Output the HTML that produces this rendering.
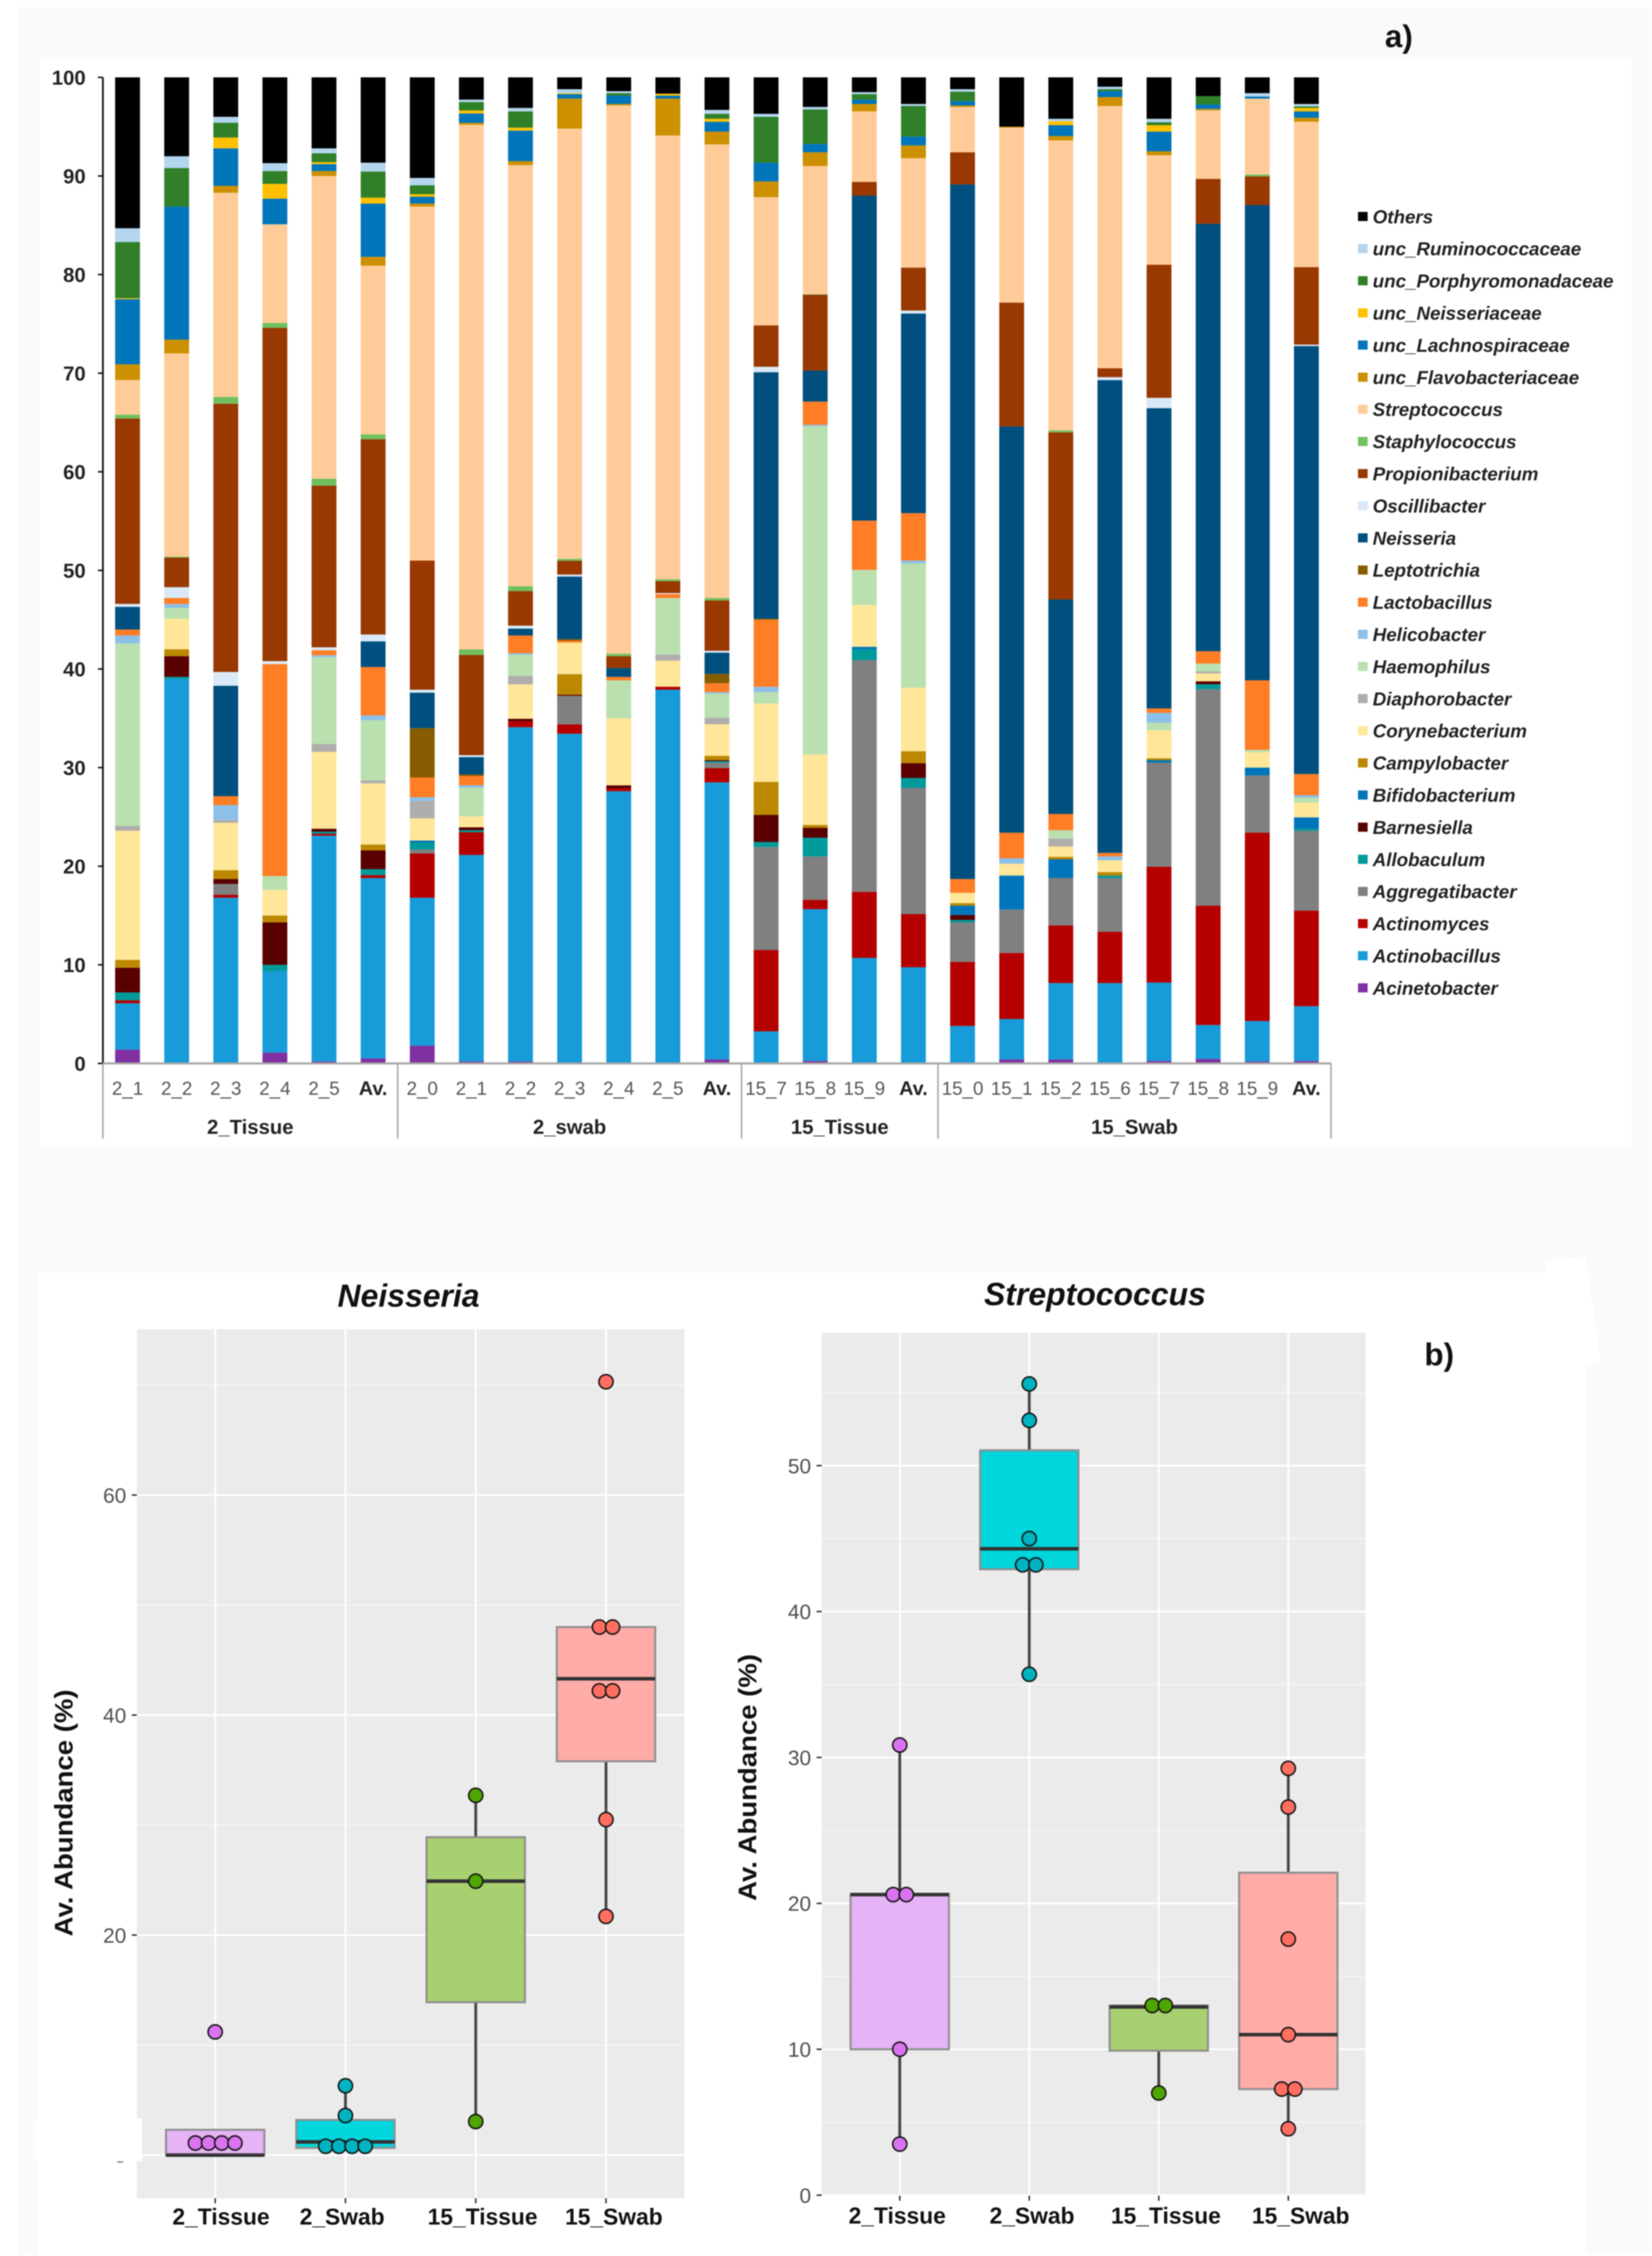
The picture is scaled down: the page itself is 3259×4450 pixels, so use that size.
<!DOCTYPE html>
<html lang="en">
<head>
<meta charset="utf-8">
<title>Microbiome composition: stacked bars and box plots</title>
<style>
html,body{margin:0;padding:0;background:#fff;}
svg{display:block;filter:blur(1px);}
text{font-family:"Liberation Sans",sans-serif;}
</style>
</head>
<body>
<svg id="figure" xmlns="http://www.w3.org/2000/svg" width="3259" height="4450" viewBox="0 0 3259 4450">
  <rect x="37" y="15" width="3222" height="4432" fill="#fafafa"/>
  <rect x="79" y="116" width="3139" height="2148" fill="#ffffff"/>
  <polygon points="75,2510 3048,2510 3048,2487 3128,2479 3159,2688 3127,2691 3127,4447 75,4447" fill="#ffffff"/>
  <text x="2732" y="93" font-size="62" font-weight="bold" fill="#111">a)</text>
  <text x="2810" y="2693" font-size="62" font-weight="bold" fill="#111">b)</text>
  <g id="stacked"></g>
  <g id="legend"></g>
  <g id="neisseria"></g>
  <g id="strep"></g>
</svg>
<script>
const sampleLabels = ['2_1','2_2','2_3','2_4','2_5','Av.','2_0','2_1','2_2','2_3','2_4','2_5','Av.','15_7','15_8','15_9','Av.','15_0','15_1','15_2','15_6','15_7','15_8','15_9','Av.'];
const groupLabels = ['2_Tissue','2_swab','15_Tissue','15_Swab'];
const groupSizes = [6,7,4,8];
const yTickLabels = [0,10,20,30,40,50,60,70,80,90,100];
const seriesNames = ['Acinetobacter','Actinobacillus','Actinomyces','Aggregatibacter','Allobaculum','Barnesiella','Bifidobacterium','Campylobacter','Corynebacterium','Diaphorobacter','Haemophilus','Helicobacter','Lactobacillus','Leptotrichia','Neisseria','Oscillibacter','Propionibacterium','Staphylococcus','Streptococcus','unc_Flavobacteriaceae','unc_Lachnospiraceae','unc_Neisseriaceae','unc_Porphyromonadaceae','unc_Ruminococcaceae','Others'];
const seriesColors = ['#8030a0','#179bd9','#b50000','#808080','#009a9a','#590000','#0075ba','#bb8800','#ffe699','#b0adad','#bae0b0','#8cc0e8','#ff7d25','#855c00','#004f7e','#d9e9f7','#993800','#70c060','#ffcc99','#cc9000','#0075ba','#ffc000','#2f8028','#b3d5ee','#000000'];

const acinetobacter = [1.4,0,0,1.1,.2,.5,1.8,.2,.2,0,0,0,.4,0,.25,0,0,0,.4,.4,0,.25,.45,.2,.25];
const actinobacillus = [4.7,39,16.8,8.25,22.9,18.3,15,20.9,33.9,33.45,27.6,37.9,28.1,3.25,15.4,10.7,9.75,3.8,4.1,7.75,8.15,7.95,3.45,4.1,5.55];
const actinomyces = [.3,0,.3,0,.2,.3,4.5,2.3,.6,.95,.3,.3,1.45,8.25,.95,6.7,5.4,6.5,6.7,5.85,5.2,11.75,12.1,19.1,9.7];
const aggregatibacter = [0,0,1.1,0,0,0,.4,0,0,2.9,0,0,.55,10.45,4.4,23.5,12.8,4,4.4,4.8,5.45,10.55,21.95,5.8,8.1];
const allobaculum = [.8,.2,0,.65,.2,.6,.7,.2,0,0,0,0,.15,.5,1.9,1.1,1,.25,0,0,.25,0,.5,0,.2];
const barnesiella = [2.5,2.1,.5,4.3,.3,1.9,0,.3,.25,.1,.3,0,.1,2.75,1,0,1.5,.5,0,0,0,0,.3,0,0];
const bifidobacterium = [0,0,0,0,0,0,.2,0,0,0,0,0,0,0,0,.25,0,.95,3.45,1.9,0,.25,0,.8,1.15];
const campylobacter = [.8,.7,.9,.7,0,.6,0,0,0,2.1,0,0,.45,3.35,.3,0,1.2,.25,0,.25,.35,.2,0,0,0];
const corynebacterium = [13.1,3.1,4.8,2.6,7.8,6.2,2.25,1.1,3.5,3.2,6.8,2.65,3.2,7.95,7.15,4.25,6.45,1.05,1.2,1.05,1.2,2.85,.8,1.55,1.5];
const diaphorobacter = [.5,0,.3,0,.8,.3,1.75,0,.85,0,0,.6,.65,0,0,0,0,0,0,.8,0,0,.2,0,0];
const haemophilus = [18.5,1.1,0,1.4,8.8,6.1,0,2.9,2.15,0,3.85,5.75,2.45,1.15,33.3,3.55,12.6,0,0,.85,0,.75,.8,.25,.5];
const helicobacter = [.8,.4,1.5,0,.2,.5,.4,.25,.15,0,0,0,.15,.55,.15,0,.3,0,.55,0,.4,1,0,0,.25];
const lactobacillus = [.6,.6,.9,21.5,.5,4.9,2,.95,1.8,.2,.35,.4,.9,6.8,2.35,5,4.8,1.4,2.6,1.65,.35,.45,1.25,7.05,2.15];
const leptotrichia = [0,0,0,0,0,0,5,.15,0,.15,0,0,.95,.1,0,0,0,0,0,0,0,0,0,0,0];
const neisseriaSeries = [2.3,0,11.2,0,0,2.6,3.6,1.75,.7,6.35,.9,0,2.15,25,3.15,32.95,20.25,70.45,41.2,21.75,47.95,30.45,43.35,48.2,43.4];
const oscillibacter = [.3,1.1,1.4,.3,.3,.7,.3,.2,.3,.2,0,.1,.2,.55,0,0,.3,0,0,0,.3,1.05,0,0,.15];
const propionibacterium = [18.8,3,27.2,33.8,16.4,19.8,13.1,10.15,3.5,1.4,1.2,1.2,5.1,4.2,7.7,1.4,4.35,3.25,12.55,16.95,.9,13.5,4.55,2.9,7.85];
const staphylococcus = [.4,.1,.7,.5,.7,.5,0,.55,.5,.2,.25,.2,.25,0,.05,0,0,0,0,.2,0,0,0,.2,0];
const streptococcusSeries = [3.5,20.6,20.7,10,30.7,17.1,35.9,53.1,42.7,43.65,55.6,45,46,13,13,7.15,11.1,4.6,17.75,29.4,26.6,11.1,6.95,7.7,14.75];
const uncFlavobacteriaceae = [1.6,1.4,.7,0,.5,.9,.3,.2,.4,3.05,.15,3.75,1.3,1.6,1.4,.75,1.3,.15,.1,.45,.9,.4,.15,0,.4];
const uncLachnospiraceae = [6.6,13.5,3.8,2.6,.7,5.4,.7,.95,3.1,.45,.85,.3,1,1.9,.85,.45,.9,.45,0,1.1,.6,2,.45,.2,.65];
const uncNeisseriaceae = [.1,0,1.1,1.5,.2,.6,.25,.3,.3,.1,0,.2,.3,0,0,0,0,0,0,.4,0,.65,0,0,.35];
const uncPorphyromonadaceae = [5.7,3.9,1.5,1.3,.9,2.65,.9,.85,1.65,0,.25,0,.5,4.65,3.5,.55,3.1,.95,0,0,.2,.3,.85,0,.15];
const uncRuminococcaceae = [1.4,1.2,.6,.8,.5,.9,.75,.25,.35,.4,.2,0,.4,.3,.25,.2,.2,.25,0,.25,.25,.35,0,.35,.25];
const others = [15.3,8,4,8.7,7.2,8.65,10.2,2.25,3.1,1.2,1.4,1.65,3.3,3.7,3,1.5,2.7,1.2,5,4.2,.95,4.2,1.9,1.6,2.7];
const seriesValues = [acinetobacter,actinobacillus,actinomyces,aggregatibacter,allobaculum,barnesiella,bifidobacterium,campylobacter,corynebacterium,diaphorobacter,haemophilus,helicobacter,lactobacillus,leptotrichia,neisseriaSeries,oscillibacter,propionibacterium,staphylococcus,streptococcusSeries,uncFlavobacteriaceae,uncLachnospiraceae,uncNeisseriaceae,uncPorphyromonadaceae,uncRuminococcaceae,others];

const boxCategories = ['2_Tissue','2_Swab','15_Tissue','15_Swab'];

const neisseriaQ1 = [0,.65,13.9,35.8];
const neisseriaMedian = [0,1.2,24.9,43.3];
const neisseriaQ3 = [2.3,3.2,28.9,48];
const neisseriaWhiskerLow = [0,.65,3.05,21.7];
const neisseriaWhiskerHigh = [2.3,6.3,32.7,48];
const neisseriaPoints = [[11.2,1.1,1.1,1.1,1.1],[6.3,3.6,.8,.8,.8,.8],[32.7,24.9,3.05],[70.3,48,48,42.2,42.2,30.5,21.7]];
const neisseriaTicks = [20,40,60];
const neisseriaMinorTicks = [10,30,50,70];

const streptococcusQ1 = [10,42.9,9.9,7.27];
const streptococcusMedian = [20.6,44.3,12.9,11];
const streptococcusQ3 = [20.65,51.05,13,22.1];
const streptococcusWhiskerLow = [3.5,35.7,7,4.55];
const streptococcusWhiskerHigh = [30.85,55.6,13,29.25];
const streptococcusPoints = [[30.85,20.6,20.6,10,3.5],[55.6,53.1,45,43.2,43.2,35.7],[13,13,7],[29.25,26.6,17.55,11,7.27,7.27,4.55]];
const streptococcusTicks = [0,10,20,30,40,50];
const streptococcusMinorTicks = [5,15,25,35,45,55];

const NS = 'http://www.w3.org/2000/svg';
function mk(tag, parent, attrs) {
  const el = document.createElementNS(NS, tag);
  for (const k in attrs) el.setAttribute(k, attrs[k]);
  parent.appendChild(el);
  return el;
}
function label(parent, x, y, str, size, fill, anchor, weight, style) {
  const el = mk('text', parent, {x: x, y: y + size * 0.36, 'font-size': size, fill: fill, 'text-anchor': anchor, 'font-weight': weight || 'normal', 'font-style': style || 'normal'});
  el.textContent = str;
  return el;
}
function slug(s) { return String(s).toLowerCase().replace(/[^a-z0-9]+/g, '-'); }

/* ---------- stacked bars ---------- */
(function () {
  const g = document.getElementById('stacked');
  const xBar = i => 251.6 + i * 96.9;
  const yVal = v => 2097.6 - v * 19.45;
  const barW = 49;

  sampleLabels.forEach((name, i) => {
    let cum = 0;
    const total = seriesValues.reduce((a, vals) => a + vals[i], 0);
    const norm = total > 0 ? 100 / total : 1;
    seriesValues.forEach((vals, s) => {
      const v = vals[i] * norm;
      const r = mk('rect', g, {x: xBar(i) - barW / 2, y: yVal(cum + v), width: barW, height: Math.max(0, yVal(cum) - yVal(cum + v)), fill: seriesColors[s]});
      
      
      cum += v;
    });
  });

  const yAxis = mk('line', g, {x1: 203, x2: 203, y1: yVal(100), y2: yVal(0), stroke: '#111', 'stroke-width': 3.5});
  
  
  const xAxis = mk('line', g, {x1: 201, x2: xBar(24) + 48.45, y1: yVal(0), y2: yVal(0), stroke: '#a6a6a6', 'stroke-width': 4});
  
  

  yTickLabels.forEach(t => {
    const tick = mk('line', g, {x1: 193, x2: 203, y1: yVal(t), y2: yVal(t), stroke: '#111', 'stroke-width': 3});
    
    
    const tl = label(g, 169, yVal(t), t, 40, '#222', 'end', 'bold');
    
    
  });

  sampleLabels.forEach((name, i) => {
    const isAv = name === 'Av.';
    const tl = label(g, xBar(i), 2146, name, isAv ? 39 : 37, isAv ? '#222' : '#555', 'middle', isAv ? 'bold' : 'normal');
    
    
  });

  let start = 0;
  const sepLine = (x, idx) => {
    const l = mk('line', g, {x1: x, x2: x, y1: yVal(0), y2: 2246, stroke: '#a6a6a6', 'stroke-width': 3});
    
    
  };
  groupLabels.forEach((name, gi) => {
    const left = gi === 0 ? 203 : xBar(start) - 48.45;
    const end = start + groupSizes[gi];
    const right = xBar(end - 1) + 48.45;
    sepLine(left, gi);
    if (gi === groupLabels.length - 1) sepLine(right, gi + 1);
    const gl = label(g, (left + right) / 2, 2222, name, 40, '#222', 'middle', 'bold');
    
    
    start = end;
  });
})();

/* ---------- legend ---------- */
(function () {
  const g = document.getElementById('legend');
  const n = seriesNames.length;
  seriesNames.forEach((name, s) => {
    const y = 427 + (n - 1 - s) * 63.4;
    const sw = mk('rect', g, {x: 2679, y: y - 9, width: 19, height: 18, fill: seriesColors[s]});
    
    
    const t = label(g, 2708, y, name, 37, '#222', 'start', 'bold', 'italic');
    
    
  });
})();

/* ---------- box plots ---------- */
const boxFills = ['#e6b3f6','#00d6dc','#a8cf70','#ffaba8'];
const dotFills = ['#d973f0','#00b3c0','#4fa600','#ff6e60'];

function drawBoxPlot(g, opt, q1, med, q3, wLo, wHi, pts, ticks, minor) {
  const xc = i => opt.x0 + opt.dx * i;
  const yv = v => opt.y0 - v * opt.k;
  const boxW = 194;
  const panel = mk('rect', g, {x: opt.left, y: opt.top, width: opt.right - opt.left, height: opt.bottom - opt.top, fill: '#ebebeb'});
  
  

  minor.forEach(t => {
    const l = mk('line', g, {x1: opt.left, x2: opt.right, y1: yv(t), y2: yv(t), stroke: '#f7f7f7', 'stroke-width': 2});
    
    
  });
  ticks.concat(opt.hiddenTicks || []).forEach(t => {
    const l = mk('line', g, {x1: opt.left, x2: opt.right, y1: yv(t), y2: yv(t), stroke: '#ffffff', 'stroke-width': 3.5});
    
    
  });
  boxCategories.forEach((c, i) => {
    const l = mk('line', g, {x1: xc(i), x2: xc(i), y1: opt.top, y2: opt.bottom, stroke: '#ffffff', 'stroke-width': 3.5});
    
    
    const tk = mk('line', g, {x1: xc(i), x2: xc(i), y1: opt.bottom, y2: opt.bottom + 10, stroke: '#333', 'stroke-width': 3});
    
    
    const t = label(g, opt.labelX[i], opt.labelY, c, 45, '#111', 'middle', 'bold');
    
    
  });
  if (opt.patch) {
    const p = mk('rect', g, opt.patch);
    p.setAttribute('fill', '#ffffff');
    
    
    const m = mk('rect', g, {x: 231, y: 4263, width: 12, height: 3, fill: '#888'});
    
    
  }
  ticks.forEach(t => {
    const tk = mk('line', g, {x1: opt.left - 10, x2: opt.left, y1: yv(t), y2: yv(t), stroke: '#333', 'stroke-width': 3});
    
    
    const tl = label(g, opt.left - 21, yv(t), t, 41, '#4d4d4d', 'end');
    
    
  });

  boxCategories.forEach((c, i) => {
    const wh = mk('line', g, {x1: xc(i), x2: xc(i), y1: yv(wHi[i]), y2: yv(q3[i]), stroke: '#444', 'stroke-width': 5.5});
    
    
    const wl = mk('line', g, {x1: xc(i), x2: xc(i), y1: yv(q1[i]), y2: yv(wLo[i]), stroke: '#444', 'stroke-width': 5.5});
    
    
    const b = mk('rect', g, {x: xc(i) - boxW / 2, y: yv(q3[i]), width: boxW, height: yv(q1[i]) - yv(q3[i]), fill: boxFills[i], stroke: '#8f8f8f', 'stroke-width': 4});
    
    
    const ml = mk('line', g, {x1: xc(i) - boxW / 2, x2: xc(i) + boxW / 2, y1: yv(med[i]), y2: yv(med[i]), stroke: '#333', 'stroke-width': 7});
    
    

    pts[i].forEach((v, pi) => {
      const same = pts[i].filter(o => o === v);
      const rank = pts[i].slice(0, pi).filter(o => o === v).length;
      const off = (rank - (same.length - 1) / 2) * 26;
      const dot = mk('circle', g, {cx: xc(i) + off, cy: yv(v), r: 14, fill: dotFills[i], stroke: '#141414', 'stroke-width': 3});
      
      
    });
  });

  const title = label(g, opt.titleX, opt.titleY, opt.title, 63, '#111', 'middle', 'bold', 'italic');
  
  

  const yt = mk('text', g, {transform: 'translate(' + (opt.ytX + 18) + ',' + opt.ytY + ') rotate(-90)', 'font-size': 50, 'font-weight': 'bold', fill: '#111', 'text-anchor': 'middle', textLength: 487, lengthAdjust: 'spacingAndGlyphs'});
  yt.textContent = 'Av. Abundance (%)';
  
  
}

drawBoxPlot(document.getElementById('neisseria'), {
  left: 270, right: 1350, top: 2622, bottom: 4336,
  x0: 424.5, dx: 257, y0: 4251, k: 21.7,
  labelX: [436,675,952,1211], labelY: 4372,
  title: 'Neisseria', titleX: 806, titleY: 2555, ytX: 125, ytY: 3576,
  hiddenTicks: [0],
  patch: {x: 70, y: 4178, width: 210, height: 85}
}, neisseriaQ1, neisseriaMedian, neisseriaQ3, neisseriaWhiskerLow, neisseriaWhiskerHigh, neisseriaPoints, neisseriaTicks, neisseriaMinorTicks);

drawBoxPlot(document.getElementById('strep'), {
  left: 1621, right: 2694, top: 2629, bottom: 4331,
  x0: 1775, dx: 255.5, y0: 4330, k: 28.78,
  labelX: [1770,2036,2300,2566], labelY: 4370,
  title: 'Streptococcus', titleX: 2160, titleY: 2552, ytX: 1474, ytY: 3506
}, streptococcusQ1, streptococcusMedian, streptococcusQ3, streptococcusWhiskerLow, streptococcusWhiskerHigh, streptococcusPoints, streptococcusTicks, streptococcusMinorTicks);
</script>
</body>
</html>
